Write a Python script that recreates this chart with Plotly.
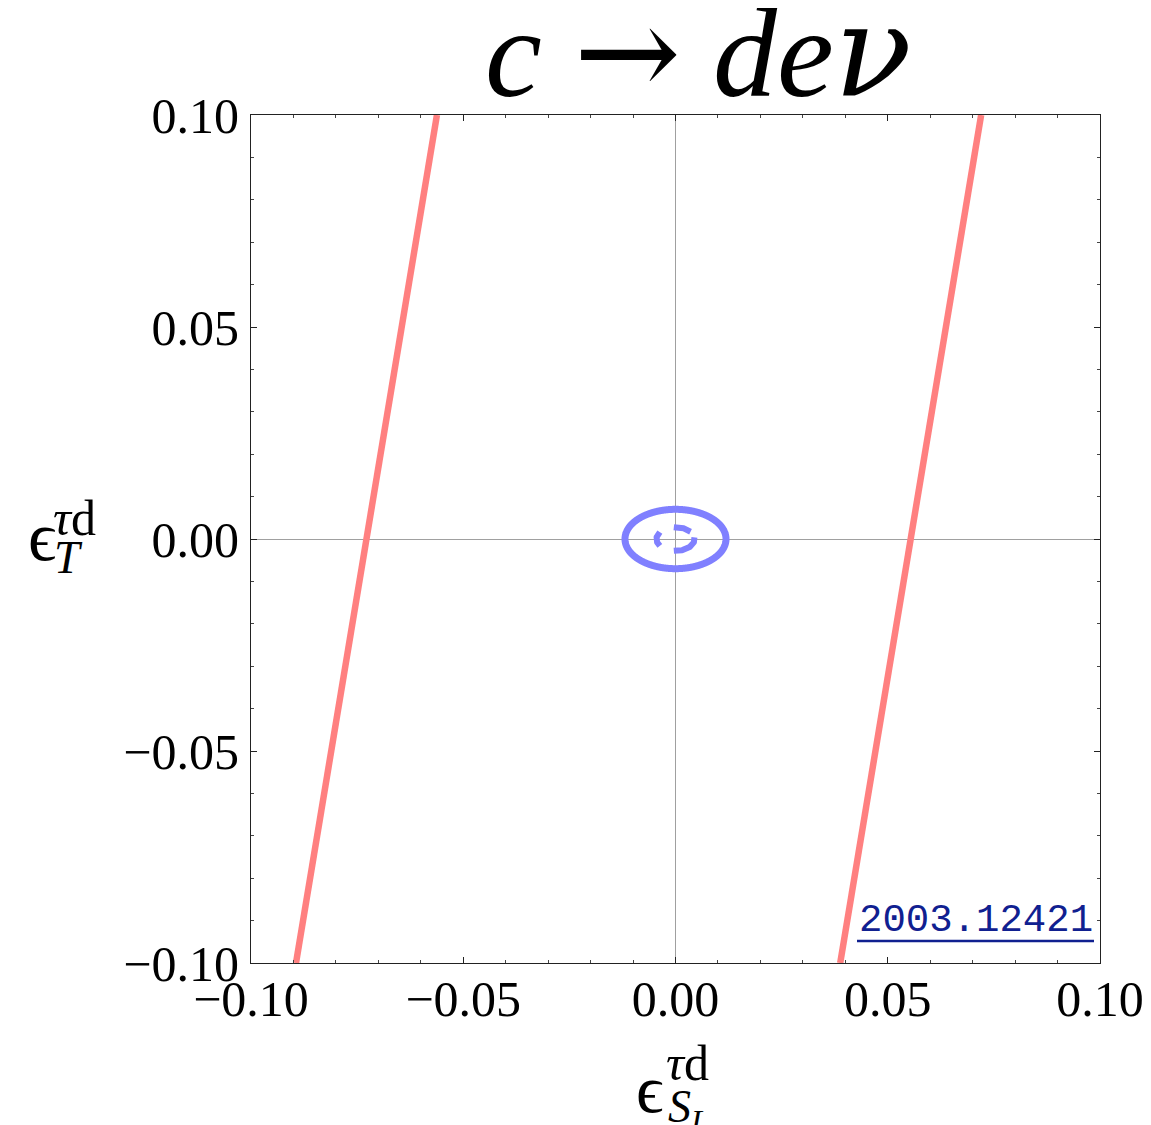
import numpy as np
import plotly.graph_objects as go

# ---- data ----
# red constraint band edges: x-position at y = -0.10 and y = +0.10
y_ends = [-0.10, 0.10]
red_left_x = [-0.0894, -0.0562]
red_right_x = [0.0388, 0.0720]

# blue allowed region (outer contour ellipse): center and semi-axes
blue_center = (0.0, 0.0)
blue_outer_axes = (0.0119, 0.0070)
# inner broken contour pieces: semi-axes and angle spans (degrees)
blue_inner_axes = (0.0045, 0.0028)
blue_inner_spans = [(145, 215), (95, 38), (8, -95)]

x_ticks = [-0.10, -0.05, 0.00, 0.05, 0.10]
y_ticks = [-0.10, -0.05, 0.00, 0.05, 0.10]

RED = "#FF8080"
BLUE = "#8080FF"
SERIF = "Liberation Serif"

fig = go.Figure()

for xs in (red_left_x, red_right_x):
    fig.add_trace(go.Scatter(x=xs, y=y_ends, mode="lines",
                             line=dict(color=RED, width=6.5), hoverinfo="skip"))

# outer ellipse
t = np.linspace(0, 2 * np.pi, 721)
fig.add_trace(go.Scatter(x=blue_center[0] + blue_outer_axes[0] * np.cos(t),
                         y=blue_center[1] + blue_outer_axes[1] * np.sin(t),
                         mode="lines", line=dict(color=BLUE, width=7, shape="spline"),
                         hoverinfo="skip"))
for a0, a1 in blue_inner_spans:
    tt = np.radians(np.linspace(a0, a1, 80))
    fig.add_trace(go.Scatter(x=blue_center[0] + blue_inner_axes[0] * np.cos(tt),
                             y=blue_center[1] + blue_inner_axes[1] * np.sin(tt),
                             mode="lines", line=dict(color=BLUE, width=6), hoverinfo="skip"))

axis_common = dict(
    showgrid=False, zeroline=True, zerolinecolor="#a0a0a0", zerolinewidth=1.2,
    showline=True, linecolor="#222222", linewidth=1.2, mirror="ticks",
    ticks="inside", ticklen=6, tickwidth=1.2, tickcolor="#222222",
    minor=dict(dtick=0.01, ticks="inside", ticklen=3, tickwidth=1, tickcolor="#444444"),
    tickformat=".2f", tickfont=dict(family=SERIF, size=50, color="black"),
    fixedrange=True, automargin=False,
)

fig.update_xaxes(range=[-0.1, 0.1], tickvals=x_ticks, ticklabelstandoff=-8, **axis_common)
fig.update_yaxes(range=[-0.1, 0.1], tickvals=y_ticks, ticklabelstandoff=1, **axis_common)

# page has an 8px body margin; figure is sized so the plot lands on the reference pixels
OFF = 8
W, H = 1151 - OFF, 1125 - OFF
L_PAGE, R, T_PAGE, B = 251, 51, 115, 162
L, T = L_PAGE - OFF, T_PAGE - OFF
PW, PH = W - L - R, H - T - B
BOTTOM_PAGE = T_PAGE + PH


def px(xp):
    return (xp - L_PAGE) / PW


def py(yp):
    return (BOTTOM_PAGE - yp) / PH


ann = []
# title
ann.append(dict(text="<i>c</i> <span style=\"font-family:'DejaVu Serif'\">→</span> "
                     "<i>de<span style=\"font-family:'DejaVu Serif'\">ν</span></i>",
                x=px(698), y=py(128), xref="paper", yref="paper",
                xanchor="center", yanchor="bottom", showarrow=False,
                font=dict(family=SERIF, size=128, color="black")))
# y-axis label  ϵ_T^{τd}
ann.append(dict(text="ϵ", x=px(42), y=py(536), xref="paper", yref="paper",
                xanchor="center", yanchor="middle", showarrow=False,
                font=dict(family=SERIF, size=70, color="black")))
ann.append(dict(text="<i>τ</i>d", x=px(74), y=py(518), xref="paper", yref="paper",
                xanchor="center", yanchor="middle", showarrow=False,
                font=dict(family=SERIF, size=50, color="black")))
ann.append(dict(text="<i>T</i>", x=px(68), y=py(557), xref="paper", yref="paper",
                xanchor="center", yanchor="middle", showarrow=False,
                font=dict(family=SERIF, size=46, color="black")))
# x-axis label  ϵ_{S_L}^{τd}
ann.append(dict(text="ϵ", x=px(650), y=py(1089), xref="paper", yref="paper",
                xanchor="center", yanchor="middle", showarrow=False,
                font=dict(family=SERIF, size=68, color="black")))
ann.append(dict(text="<i>τ</i>d", x=px(687), y=py(1063), xref="paper", yref="paper",
                xanchor="center", yanchor="middle", showarrow=False,
                font=dict(family=SERIF, size=50, color="black")))
ann.append(dict(text="<i>S</i><sub><i>L</i></sub>", x=px(666), y=py(1110), xref="paper", yref="paper",
                xanchor="left", yanchor="middle", showarrow=False,
                font=dict(family=SERIF, size=46, color="black")))
# watermark
ann.append(dict(text="2003.12421", x=px(1095), y=py(921), xref="paper", yref="paper",
                xanchor="right", yanchor="middle", showarrow=False,
                font=dict(family="Liberation Mono", size=39, color="#102090")))

shapes = [dict(type="line", xref="paper", yref="paper", x0=px(857), x1=px(1094),
               y0=py(941), y1=py(941), line=dict(color="#102090", width=2.5))]

fig.update_layout(
    width=W, height=H, margin=dict(l=L, r=R, t=T, b=B, pad=0),
    plot_bgcolor="white", paper_bgcolor="white", showlegend=False,
    annotations=ann, shapes=shapes,
)

fig.write_html("out.html")
